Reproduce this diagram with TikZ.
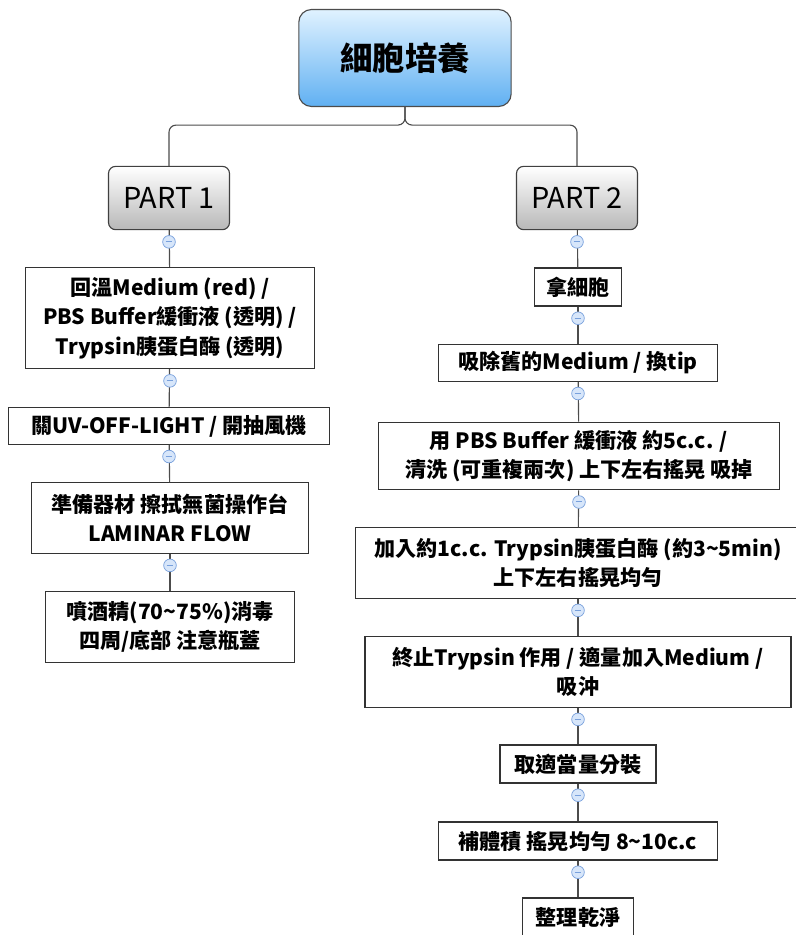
\documentclass[tikz,border=0pt]{standalone}
\usepackage{fontspec}
\setmainfont{Noto Sans CJK TC}
\definecolor{rootTop}{RGB}{224,242,255}
\definecolor{rootBot}{RGB}{96,176,242}
\definecolor{knobLine}{RGB}{120,160,220}
\definecolor{knobFill}{RGB}{215,230,250}

\begin{document}
\begin{tikzpicture}[x=0.025cm,y=-0.025cm,
    link/.style={draw=black!70,line width=0.8pt},
    stepbox/.style={draw=black!80,line width=0.8pt,fill=white,align=center,inner sep=0pt,
        font=\bfseries\fontsize{15}{21}\selectfont},
    partbox/.style={draw=black!75,line width=0.8pt,rounded corners=5pt,top color=white,
        bottom color=black!28,font=\fontsize{20.5}{23}\selectfont,minimum width=86pt,minimum height=45pt},
    knob/.style={circle,draw=knobLine,fill=knobFill,line width=0.5pt,minimum size=9pt,inner sep=0pt,
        path picture={\draw[knobLine,line width=0.7pt] ([xshift=-2.4pt]path picture bounding box.center)
            -- ([xshift=2.4pt]path picture bounding box.center);}}]
\useasboundingbox (0,0) rectangle (796,935);

% root and the two parts
\node[draw=black!70,line width=0.8pt,rounded corners=9pt,top color=rootTop,bottom color=rootBot,
    minimum width=151pt,minimum height=69pt,font=\bfseries\fontsize{23}{26}\selectfont] (root) at (405,58) {細胞培養};
\node[partbox] (part1) at (169,198) {PART 1};
\node[partbox] (part2) at (577,198) {PART 2};
\draw[link,rounded corners=5pt] (root.south) -- ++(0,18) -| (part1.north);
\draw[link,rounded corners=5pt] (root.south) -- ++(0,18) -| (part2.north);

% PART 1
\node[stepbox,minimum width=206pt,minimum height=72pt] (l1) at (170,318) {回溫Medium (red) /\\PBS Buffer緩衝液 (透明) /\\Trypsin胰蛋白酶 (透明)};
\node[stepbox,minimum width=228pt,minimum height=26pt] (l2) at (169,426) {關UV-OFF-LIGHT / 開抽風機};
\node[stepbox,minimum width=197pt,minimum height=50pt] (l3) at (170,518) {準備器材 擦拭無菌操作台\\LAMINAR FLOW};
\node[stepbox,minimum width=177pt,minimum height=50pt] (l4) at (170,627) {噴酒精(70\textasciitilde75\%)消毒\\四周/底部 注意瓶蓋};

% PART 2
\node[stepbox,minimum width=62pt,minimum height=27pt] (r1) at (578,287) {拿細胞};
\node[stepbox,minimum width=198pt,minimum height=26pt] (r2) at (578,363) {吸除舊的Medium / 換tip};
\node[stepbox,minimum width=285pt,minimum height=48pt] (r3) at (579,456) {用 PBS Buffer 緩衝液 約5c.c. /\\清洗 (可重複兩次) 上下左右搖晃 吸掉};
\node[stepbox,minimum width=316pt,minimum height=50pt] (r4) at (578,563) {加入約1c.c. Trypsin胰蛋白酶 (約3\textasciitilde5min)\\上下左右搖晃均勻};
\node[stepbox,minimum width=303pt,minimum height=50pt] (r5) at (578,672) {終止Trypsin 作用 / 適量加入Medium /\\吸沖};
\node[stepbox,minimum width=111pt,minimum height=27pt] (r6) at (578,764) {取適當量分裝};
\node[stepbox,minimum width=198pt,minimum height=27pt] (r7) at (578,841) {補體積 搖晃均勻 8\textasciitilde10c.c};
\node[stepbox,minimum width=79pt,minimum height=27pt] (r8) at (578,917) {整理乾淨};

\foreach \a/\b in {part1/l1,l1/l2,l2/l3,l3/l4,part2/r1,r1/r2,r2/r3,r3/r4,r4/r5,r5/r6,r6/r7,r7/r8} {
  \draw[link] (\a) -- (\b);
  \node[knob] (k-\b) at ([yshift=-8.3pt]\a.south) {};
}
\end{tikzpicture}
\end{document}
